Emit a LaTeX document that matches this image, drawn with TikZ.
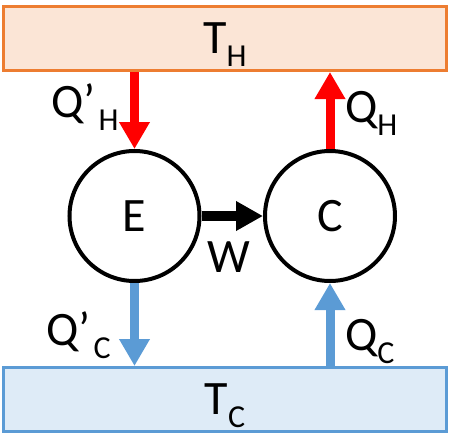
\documentclass[tikz,border=0pt]{standalone}
\usepackage{fontspec}
\setmainfont{Carlito}
\usepackage{tikz}
\usetikzlibrary{arrows.meta, positioning}
\definecolor{hotfill}{HTML}{FBE5D6}
\definecolor{hotline}{HTML}{ED7D31}
\definecolor{coldfill}{HTML}{DEEBF7}
\definecolor{coldline}{HTML}{5B9BD5}
\tikzstyle{reservoir} = [rectangle, minimum width=443pt, minimum height=64pt, inner sep=0pt, text depth=0pt, line width=3pt, text centered]
\tikzstyle{machine} = [circle, minimum size=130pt, inner sep=0pt, draw=black, line width=4pt]
\tikzstyle{heat} = [line width=9pt, -{Triangle[width=29pt,length=27pt]}]
\tikzstyle{work} = [line width=10pt, -{Triangle[width=28pt,length=27pt]}]
\tikzstyle{lbl} = [inner sep=0pt, anchor=base west]
\newcommand{\subtxt}[1]{\raisebox{-13pt}{\fontsize{32}{34}\selectfont #1}}

\begin{document}
\begin{tikzpicture}[x=1pt, y=-1pt, font=\fontsize{48}{52}\selectfont]
\useasboundingbox (0,0) rectangle (472,440);

\node (hot) [reservoir, draw=hotline, fill=hotfill] at (225,38.5) {T\subtxt{H}};
\node (cold) [reservoir, draw=coldline, fill=coldfill] at (225,399.5) {T\subtxt{C}};
\node (E) [machine] at (134.5,216) {E};
\node (C) [machine, right=61.5pt of E] {C};

\draw [heat, red] (hot.south -| E) -- (E.north);
\draw [heat, red] (C.north) -- (hot.south -| C);
\draw [heat, coldline] (E.south) -- (cold.north -| E);
\draw [heat, coldline] (cold.north -| C) -- (C.south);
\draw [work] (E) -- (C);

\node (qhe) [lbl] at (51,117) {Q’\hspace{3pt}\subtxt{H}};
\node (qhc) [lbl] at (345,122) {Q\subtxt{H}};
\node (qce) [lbl] at (46,345) {Q’\hspace{3pt}\subtxt{C}};
\node (qcc) [lbl] at (345,350) {Q\subtxt{C}};
\node (w) [lbl] at (207,272) {W};

\end{tikzpicture}
\end{document}
